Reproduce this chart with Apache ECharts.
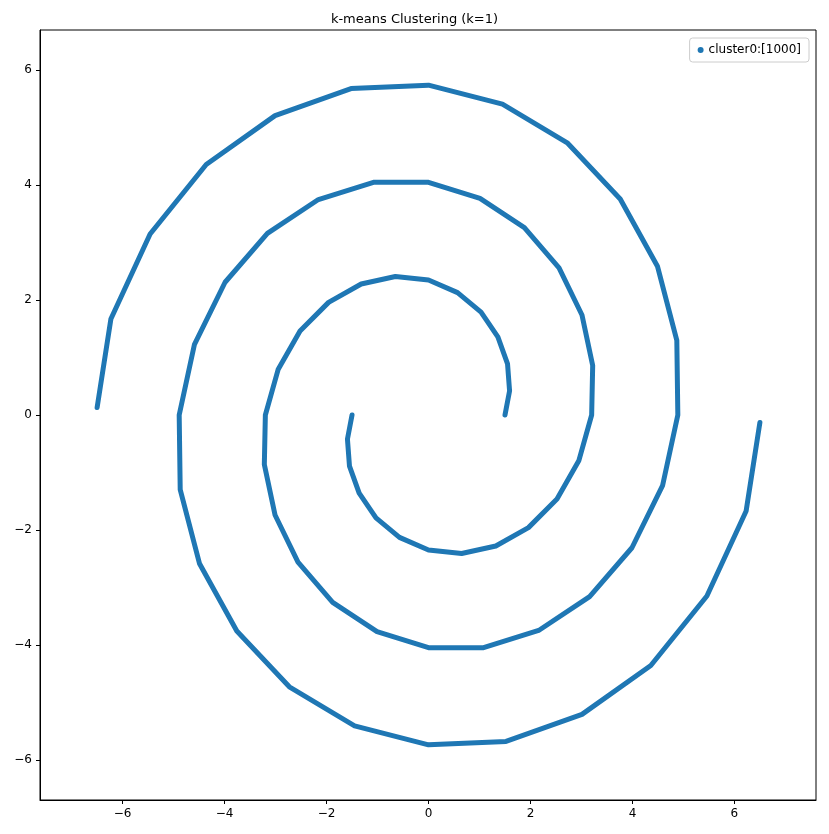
<!DOCTYPE html>
<html>
<head>
<meta charset="utf-8">
<script src="https://cdn.jsdelivr.net/npm/echarts@6/dist/echarts.min.js"></script>
<style>html,body{margin:0;padding:0;background:#fff}#chart{width:829px;height:834px}</style>
</head>
<body>
<div id="chart"></div>
<script>
var armA = [
  [1.50, 0.00], [1.59, 0.42], [1.55, 0.89], [1.36, 1.36], [1.03, 1.79], [0.57, 2.13],
  [0.00, 2.35], [-0.65, 2.41], [-1.32, 2.28], [-1.96, 1.96], [-2.52, 1.46], [-2.95, 0.79],
  [-3.20, 0.00], [-3.22, -0.86], [-3.01, -1.74], [-2.56, -2.56], [-1.88, -3.26], [-1.01, -3.77],
  [0.00, -4.05], [1.08, -4.05], [2.16, -3.75], [3.16, -3.16], [3.99, -2.31], [4.59, -1.23],
  [4.89, 0.00], [4.87, 1.30], [4.49, 2.59], [3.76, 3.76], [2.73, 4.73], [1.45, 5.41],
  [0.00, 5.74], [-1.52, 5.68], [-3.01, 5.21], [-4.36, 4.36], [-5.46, 3.15], [-6.23, 1.67],
  [-6.50, 0.13]
];
var armB = [
  [-1.50, 0.00], [-1.59, -0.42], [-1.55, -0.89], [-1.36, -1.36], [-1.03, -1.79], [-0.57, -2.13],
  [0.00, -2.35], [0.65, -2.41], [1.32, -2.28], [1.96, -1.96], [2.52, -1.46], [2.95, -0.79],
  [3.20, 0.00], [3.22, 0.86], [3.01, 1.74], [2.56, 2.56], [1.88, 3.26], [1.01, 3.77],
  [0.00, 4.05], [-1.08, 4.05], [-2.16, 3.75], [-3.16, 3.16], [-3.99, 2.31], [-4.59, 1.23],
  [-4.89, 0.00], [-4.87, -1.30], [-4.49, -2.59], [-3.76, -3.76], [-2.73, -4.73], [-1.45, -5.41],
  [0.00, -5.74], [1.52, -5.68], [3.01, -5.21], [4.36, -4.36], [5.46, -3.15], [6.23, -1.67],
  [6.50, -0.13]
];
var xTicks = [-6, -4, -2, 0, 2, 4, 6];
var yTicks = [-6, -4, -2, 0, 2, 4, 6];
var seriesName = 'cluster0:[1000]';

var color = '#1f77b4';
var chart = echarts.init(document.getElementById('chart'));

function axis(ticks, min, max) {
  return {
    type: 'value', min: min, max: max,
    axisLine: { show: true, onZero: false, lineStyle: { color: '#000' } },
    splitLine: { show: false },
    axisTick: { show: true, inside: false, length: 4, customValues: ticks, lineStyle: { color: '#000' } },
    axisLabel: { customValues: ticks, color: '#000', fontSize: 12, fontFamily: 'DejaVu Sans',
      formatter: function (v) { return String(v).replace('-', '\u2212'); } }
  };
}

function arm(data, name) {
  return {
    name: name, type: 'line', data: data, smooth: false,
    showSymbol: false, symbol: 'circle',
    lineStyle: { color: color, width: 5, join: 'round', cap: 'round' },
    itemStyle: { color: color },
    z: 3
  };
}

chart.setOption({
  animation: false,
  title: { text: 'k-means Clustering (k=1)', left: 'center', top: 8,
    textStyle: { fontSize: 13, fontWeight: 'normal', color: '#000', fontFamily: 'DejaVu Sans' } },
  legend: {
    data: [{ name: seriesName, icon: 'circle' }],
    right: 20, top: 38, itemWidth: 6, itemHeight: 6,
    borderColor: '#ccc', borderWidth: 1, borderRadius: 3, padding: [6, 8],
    textStyle: { fontSize: 12, color: '#000', fontFamily: 'DejaVu Sans' }
  },
  grid: { left: 40, right: 13, top: 30, bottom: 34, show: true, borderColor: '#000', borderWidth: 1 },
  xAxis: axis(xTicks, -7.62, 7.6),
  yAxis: axis(yTicks, -6.7, 6.7),
  series: [arm(armA, seriesName), arm(armB, seriesName)]
});
</script>
</body>
</html>
